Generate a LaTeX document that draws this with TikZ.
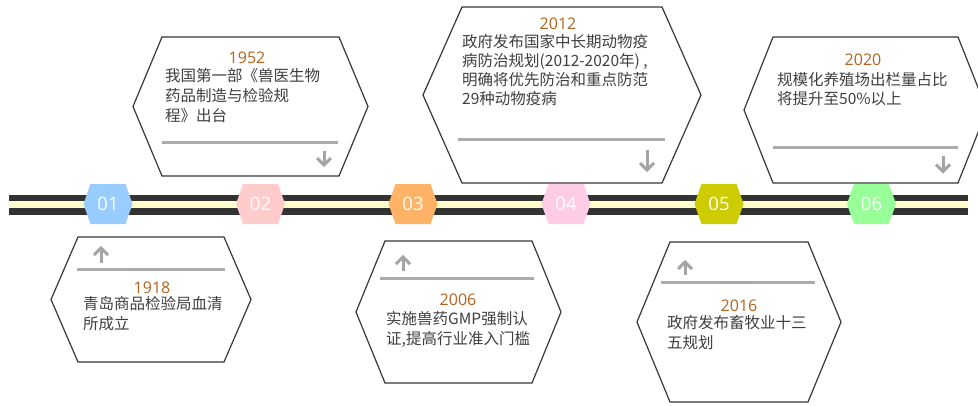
\documentclass[tikz,border=0pt]{standalone}
\usepackage{fontspec}
\setmainfont{Noto Sans CJK SC}
\newfontfamily\numfont{Open Sans}
\definecolor{bodytext}{HTML}{3F3F3F}
\definecolor{yearcol}{HTML}{B3641E}
\definecolor{cardline}{HTML}{383838}
\definecolor{divgray}{HTML}{ABABAB}
\definecolor{arrgray}{HTML}{A5A5A5}
\definecolor{barblack}{HTML}{333333}
\definecolor{barcream}{HTML}{FFFFCC}
\definecolor{mA}{HTML}{99CCFF}
\definecolor{mB}{HTML}{FFCCCC}
\definecolor{mC}{HTML}{FFB366}
\definecolor{mD}{HTML}{FFCCE6}
\definecolor{mE}{HTML}{CCCC00}
\definecolor{mF}{HTML}{99FF99}
\newcommand{\tlhex}[4]{%
  \fill[#3] (#2-24.5,204) -- (#2-17.5,184) -- (#2+17.5,184) -- (#2+24.5,204) -- (#2+17.5,224) -- (#2-17.5,224) -- cycle;
  \node[marklabel] (#1) at (#2,204) {#4};}
\newcommand{\tlcard}[5]{%
  \draw[cardbox] (#1,#3) -- (#2,#3) -- (#2+#5,{(#3+#4)/2}) -- (#2,#4) -- (#1,#4) -- (#1-#5,{(#3+#4)/2}) -- cycle;}
\newcommand{\tlarrdown}[3]{%
  \draw[arricon] (#1,#2) -- (#1,#3);
  \draw[arricon] (#1-7,#3-7) -- (#1,#3) -- (#1+7,#3-7);}
\newcommand{\tlarrup}[3]{%
  \draw[arricon] (#1,#2) -- (#1,#3);
  \draw[arricon] (#1-7,#3+7) -- (#1,#3) -- (#1+7,#3+7);}
\begin{document}
\begin{tikzpicture}[x=1pt,y=-1pt,
  cardbox/.style={draw=cardline, line width=1.2pt, fill=white, line join=miter},
  divider/.style={draw=divgray, line width=3pt},
  arricon/.style={draw=arrgray, line width=3pt},
  body/.style={anchor=west, inner sep=0pt, text=bodytext, font=\fontsize{15.5}{19}\selectfont, text height=13.6pt, text depth=1.9pt},
  year/.style={anchor=center, inner sep=0pt, text=yearcol, font=\numfont\fontsize{16}{19}\selectfont, text height=11.8pt, text depth=0pt},
  marklabel/.style={inner sep=0pt, text=white, font=\numfont\fontsize{18.5}{20}\selectfont}]
\useasboundingbox (0,0) rectangle (978,405);
% timeline bar
\fill[barblack] (9,195) rectangle (968,215);
\fill[barcream] (9,201) rectangle (968,208);
% markers
\tlhex{m1}{108}{mA}{01}
\tlhex{m2}{260.5}{mB}{02}
\tlhex{m3}{413}{mC}{03}
\tlhex{m4}{566}{mD}{04}
\tlhex{m5}{719}{mE}{05}
\tlhex{m6}{871.5}{mF}{06}
% ---- card 1952 (top)
\tlcard{162}{339}{37}{176}{29}
\draw[divider] (162,142) -- (338,142);
\tlarrdown{324}{151}{165}
\node[year] (y2) at (247,58) {1952};
\node[body] (t2a) at (165,75.5) {我国第一部《兽医生物};
\node[body] (t2b) at (165,95.5) {药品制造与检验规};
\node[body] (t2c) at (165,115.5) {程》出台};
% ---- card 2012 (top)
\tlcard{462}{662}{7}{183}{39}
\draw[divider] (458,139.5) -- (665,139.5);
\tlarrdown{647}{150}{170}
\node[year] (y4) at (558,24) {2012};
\node[body] (t4a) at (462,42) {政府发布国家中长期动物疫};
\node[body] (t4b) at (462,61) {病防治规划(2012-2020年) ,};
\node[body] (t4c) at (462,80) {明确将优先防治和重点防范};
\node[body] (t4d) at (462,99) {29种动物疫病};
% ---- card 2020 (top)
\tlcard{773}{958}{37}{183}{29}
\draw[divider] (773,147.5) -- (958,147.5);
\tlarrdown{943}{156}{171.5}
\node[year] (y6) at (863,59.5) {2020};
\node[body] (t6a) at (777,79.5) {规模化养殖场出栏量占比};
\node[body] (t6b) at (777,98.5) {将提升至50\%以上};
% ---- card 1918 (bottom)
\tlcard{78}{224}{237}{362}{27}
\draw[divider] (77,269.5) -- (225,269.5);
\tlarrup{101}{263}{248}
\node[year] (y1) at (152,287.5) {1918};
\node[body] (t1a) at (83,303.5) {青岛商品检验局血清};
\node[body] (t1b) at (83,323.5) {所成立};
% ---- card 2006 (bottom)
\tlcard{385}{532}{241}{383}{29}
\draw[divider] (380,278.5) -- (534,278.5);
\tlarrup{403}{271}{257}
\node[year] (y3) at (458,299.5) {2006};
\node[body] (t3a) at (386,318.5) {实施兽药GMP强制认};
\node[body] (t3b) at (386,338.5) {证,提高行业准入门槛};
% ---- card 2016 (bottom)
\tlcard{670}{808}{242}{402}{33}
\draw[divider] (661,282.5) -- (815,282.5);
\tlarrup{685}{275}{262}
\node[year] (y5) at (739,306) {2016};
\node[body] (t5a) at (667,322.5) {政府发布畜牧业十三};
\node[body] (t5b) at (667,342.5) {五规划};
\end{tikzpicture}
\end{document}
